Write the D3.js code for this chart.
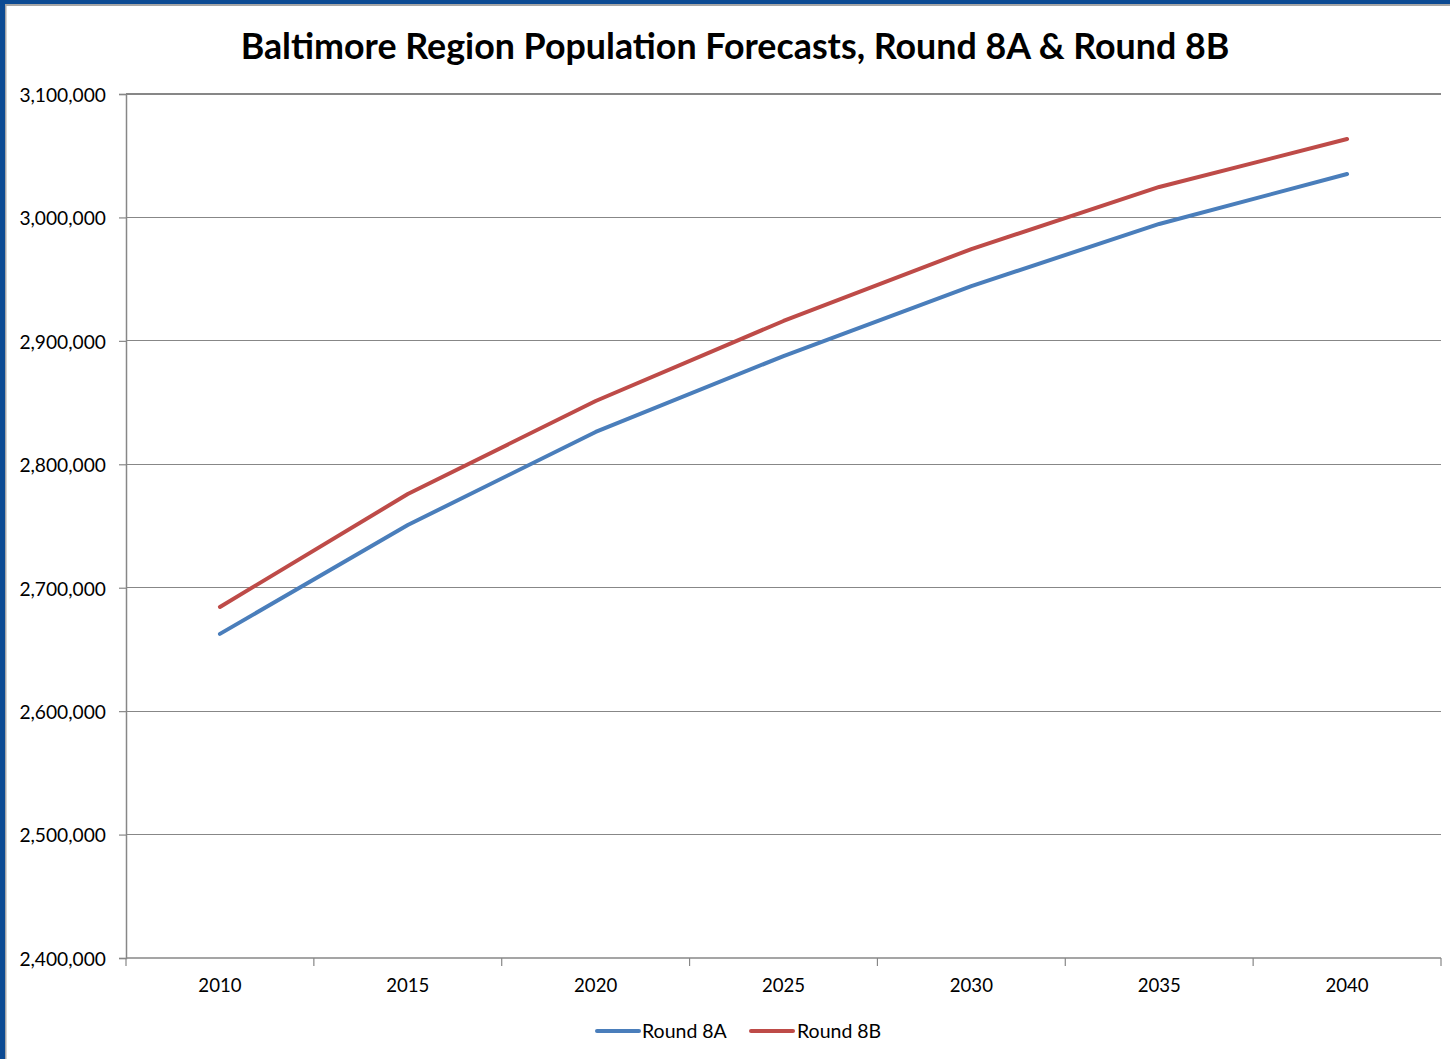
<!DOCTYPE html>
<html><head><meta charset="utf-8">
<script src="https://cdn.jsdelivr.net/npm/d3@7"></script>
<style>body{margin:0;background:#fff;}svg{display:block;}</style>
</head><body><svg id="c" width="1450" height="1059"></svg>
<script>
const years = ["2010","2015","2020","2025","2030","2035","2040"];
const round8A = [2662600, 2750800, 2826200, 2887700, 2944400, 2994700, 3035200];
const round8B = [2684400, 2775900, 2851300, 2916100, 2974400, 3024700, 3063500];
const yTicks = [2400000, 2500000, 2600000, 2700000, 2800000, 2900000, 3000000, 3100000];
const seriesNames = ["Round 8A", "Round 8B"];
const seriesColors = ["#4A7EBB", "#BE4B48"];
const title = "Baltimore Region Population Forecasts, Round 8A & Round 8B";

const svg = d3.select("#c");
const font = "Lato, sans-serif";
// frame borders
svg.append("rect").attr("x",0).attr("y",0).attr("width",1450).attr("height",5).attr("fill","#0B4A93");
svg.append("rect").attr("x",0).attr("y",0).attr("width",5).attr("height",1059).attr("fill","#0B4A93");
svg.append("rect").attr("x",5).attr("y",4).attr("width",1445).attr("height",2).attr("fill","#A6A6A6");
svg.append("rect").attr("x",5).attr("y",5).attr("width",1.5).attr("height",1054).attr("fill","#A6A6A6");

const L=126, R=1441, T=94, B=958;
const x = d3.scaleBand().domain(years).range([L,R]);
const y = d3.scaleLinear().domain([2400000,3100000]).range([B,T]);

svg.append("text").attr("x",735).attr("y",59).attr("text-anchor","middle")
  .attr("font-family",font).attr("font-weight","bold").attr("font-size",35.8).attr("fill","#000").text(title);

// gridlines
svg.append("g").selectAll("line").data(yTicks.slice(1)).join("line")
  .attr("x1",L).attr("x2",R).attr("y1",d=>y(d)).attr("y2",d=>y(d))
  .attr("stroke","#878787").attr("stroke-width",1.2).attr("shape-rendering","crispEdges");

// y axis
const ya = svg.append("g").attr("transform",`translate(${L},0)`)
  .call(d3.axisLeft(y).tickValues(yTicks).tickFormat(d3.format(",")).tickSize(7).tickPadding(13));
ya.select(".domain").attr("stroke","#878787").attr("stroke-width",1.5);
ya.selectAll(".tick line").attr("stroke","#878787").attr("stroke-width",1.2);
ya.selectAll("text").attr("font-family",font).attr("font-size",19.2).attr("fill","#000").attr("dy","0.38em");

// x axis
const xa = svg.append("g").attr("transform",`translate(0,${B})`)
  .call(d3.axisBottom(x).tickSize(0).tickPadding(21));
xa.select(".domain").remove();
xa.selectAll("text").attr("font-family",font).attr("font-size",18.6).attr("fill","#000");
svg.append("line").attr("x1",L).attr("x2",R).attr("y1",B).attr("y2",B).attr("stroke","#878787").attr("stroke-width",1.5);
const bounds = years.map(d=>x(d)).concat([R]);
svg.append("g").selectAll("line").data(bounds).join("line")
  .attr("x1",d=>d).attr("x2",d=>d).attr("y1",B).attr("y2",B+8).attr("stroke","#878787").attr("stroke-width",1.2);

// lines
const line = d3.line().x((d,i)=>x(years[i])+x.bandwidth()/2).y(d=>y(d));
[round8A, round8B].forEach((s,i)=>{
  svg.append("path").datum(s).attr("d",line).attr("fill","none")
    .attr("stroke",seriesColors[i]).attr("stroke-width",4).attr("stroke-linecap","round").attr("stroke-linejoin","round");
});

// legend
const lg = [{x:597,tx:642},{x:751,tx:797}];
seriesNames.forEach((n,i)=>{
  svg.append("line").attr("x1",lg[i].x).attr("x2",lg[i].x+42).attr("y1",1031).attr("y2",1031)
    .attr("stroke",seriesColors[i]).attr("stroke-width",4).attr("stroke-linecap","round");
  svg.append("text").attr("x",lg[i].tx).attr("y",1038).attr("font-family",font).attr("font-size",19.5).attr("fill","#000").text(n);
});
</script></body></html>
